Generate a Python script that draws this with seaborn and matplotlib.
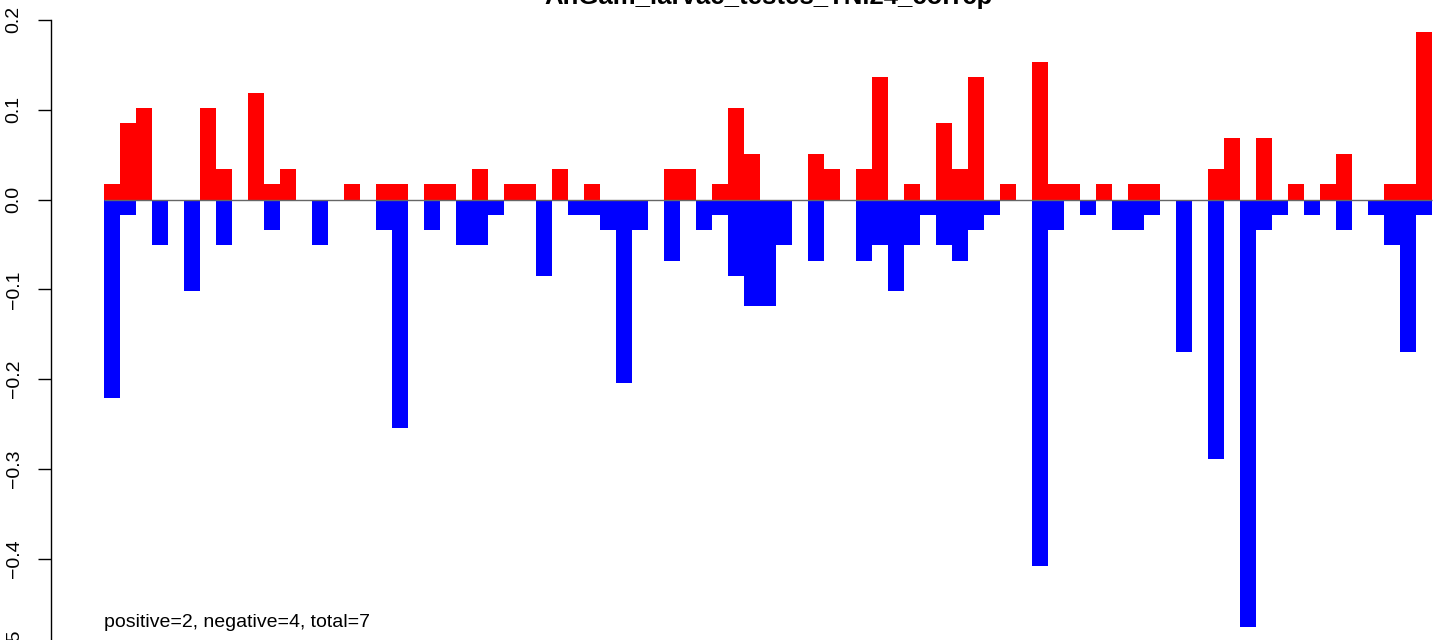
import numpy as np
import pandas as pd
import seaborn as sns
import matplotlib
matplotlib.use("Agg")
import matplotlib.pyplot as plt

# --- data ---
title = "AnGam_larvae_testes_TNi24_corrcp"
note = "positive=2, negative=4, total=7"

positive = [0.017, 0.085, 0.102, 0, 0, 0, 0.102, 0.034, 0, 0.119,
            0.017, 0.034, 0, 0, 0, 0.017, 0, 0.017, 0.017, 0,
            0.017, 0.017, 0, 0.034, 0, 0.017, 0.017, 0, 0.034, 0,
            0.017, 0, 0, 0, 0, 0.034, 0.034, 0, 0.017, 0.102,
            0.051, 0, 0, 0, 0.051, 0.034, 0, 0.034, 0.136, 0,
            0.017, 0, 0.085, 0.034, 0.136, 0, 0.017, 0, 0.153, 0.017,
            0.017, 0, 0.017, 0, 0.017, 0.017, 0, 0, 0, 0.034,
            0.068, 0, 0.068, 0, 0.017, 0, 0.017, 0.051, 0, 0,
            0.017, 0.017, 0.187]

negative = [-0.221, -0.017, 0, -0.051, 0, -0.102, 0, -0.051, 0, 0,
            -0.034, 0, 0, -0.051, 0, 0, 0, -0.034, -0.255, 0,
            -0.034, 0, -0.051, -0.051, -0.017, 0, 0, -0.085, 0, -0.017,
            -0.017, -0.034, -0.204, -0.034, 0, -0.068, 0, -0.034, -0.017, -0.085,
            -0.119, -0.119, -0.051, 0, -0.068, 0, 0, -0.068, -0.051, -0.102,
            -0.051, -0.017, -0.051, -0.068, -0.034, -0.017, 0, 0, -0.408, -0.034,
            0, -0.017, 0, -0.034, -0.034, -0.017, 0, -0.170, 0, -0.289,
            0, -0.476, -0.034, -0.017, 0, -0.017, 0, -0.034, 0, -0.017,
            -0.051, -0.170, -0.017]

index = list(range(len(positive)))
df = pd.DataFrame({"idx": index, "positive": positive, "negative": negative})

# --- style ---
sns.set_theme(style="white")
plt.rcParams["font.family"] = ["Liberation Sans", "DejaVu Sans"]

W, H = 1449, 640
fig = plt.figure(figsize=(W / 100, H / 100), dpi=100)

# plot region in pixels (the reference is cropped at top/right/bottom)
left_px, right_px = 51, 1485
top_px, bottom_px = 7.8, 649.8
ax = fig.add_axes([left_px / W, 1 - bottom_px / H,
                   (right_px - left_px) / W, (bottom_px - top_px) / H])

sns.barplot(data=df, x="idx", y="positive", color="#ff0000", saturation=1,
            width=1, linewidth=0, edgecolor="none", ax=ax)
sns.barplot(data=df, x="idx", y="negative", color="#0000ff", saturation=1,
            width=1, linewidth=0, edgecolor="none", ax=ax)

n = len(index)
pad = 0.04 * n
ax.set_xlim(-0.5 - pad, n - 0.5 + pad)
ax.set_ylim(-0.5015, 0.2135)

ax.hlines(0, -0.5, n - 0.5, color="#666666", linewidth=1, zorder=5)

# axes: only y axis, R-like
for s in ["top", "right", "bottom"]:
    ax.spines[s].set_visible(False)
ax.spines["left"].set_bounds(-0.5, 0.2)
ax.spines["left"].set_linewidth(1)
ax.spines["left"].set_color("black")
ax.set_xticks([])
ax.set_xlabel("")
ax.set_ylabel("")
yt = [-0.5, -0.4, -0.3, -0.2, -0.1, 0.0, 0.1, 0.2]
ax.set_yticks(yt)
ax.set_yticklabels([f"{v:.1f}".replace("-", "\u2212") for v in yt],
                   rotation=90, va="center", fontsize=14)
ax.tick_params(axis="y", direction="out", length=9.5, width=1, pad=11,
               left=True, color="black", labelcolor="black")
ax.patch.set_alpha(0)

ax.text(-0.5, -0.471, note, ha="left", va="center", fontsize=14, color="black")

fig.text((left_px + right_px) / 2 / W, 1 - 4 / H, title, ha="center",
         va="baseline", fontsize=18.5, fontweight="bold", color="black")

fig.savefig("out.png", dpi=100)
